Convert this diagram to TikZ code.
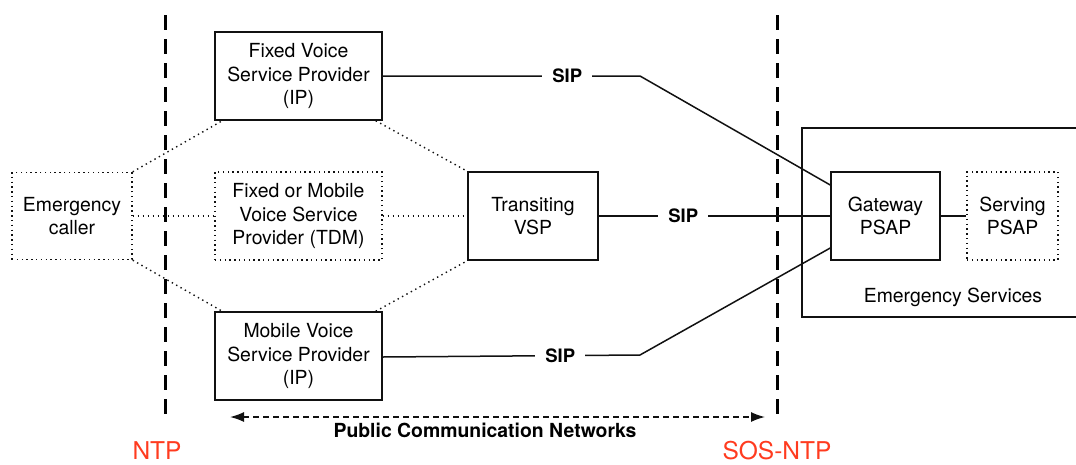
\documentclass[tikz,border=0pt]{standalone}
\usepackage{fontspec}
\setmainfont{TeX Gyre Heros}
\usetikzlibrary{arrows.meta}
\definecolor{ntp-red}{HTML}{FF3B1F}
\definecolor{line-dark}{HTML}{111111}

\begin{document}
\begin{tikzpicture}[x=1pt, y=-1pt,
          every node/.style={font=\fontsize{19.4}{23.5}\selectfont, align=center},
          solidbox/.style={draw=line-dark, line width=1.5pt, inner sep=0pt},
          dotbox/.style={draw=line-dark, line width=1.4pt, inner sep=0pt,
                         dash pattern=on 1.4pt off 3.4pt},
          dotlink/.style={draw=line-dark, line width=1.4pt, dash pattern=on 1.4pt off 3.6pt},
          siplink/.style={draw=line-dark, line width=1.5pt},
          sip/.style={fill=white, font=\fontsize{18.5}{20}\selectfont\bfseries, inner xsep=10pt},
          border/.style={draw=black, line width=3pt, dash pattern=on 15pt off 9pt},
          borderlab/.style={text=ntp-red, font=\fontsize{24.5}{26}\selectfont, inner sep=0pt}]
        % Diagram: emergency call path from caller through the voice providers
        % to the PSAPs; two dashed borders NTP / SOS-NTP.
        % Coordinates: pixel grid of the reference, (x, y) with y going down.
        \useasboundingbox (0,0) rectangle (1076,464);
        % network borders
        \coordinate (ntptop) at (165,15);
        \coordinate (ntpbot) at (165,418);
        \coordinate (sostop) at (777,15);
        \coordinate (sosbot) at (777,418);
        \draw[border] (ntptop) -- (ntpbot);
        \draw[border] (sostop) -- (sosbot);
        \node[borderlab] (ntp) at (157,451) {NTP};
        \node[borderlab] (sosntp) at (777,451) {SOS-NTP};
        % voice service providers
        \foreach \nm/\y/\sty/\lab in {fixedvsp/76/solidbox/{Fixed Voice\\Service Provider\\(IP)},
            tdmvsp/216/dotbox/{Fixed or Mobile\\Voice Service\\Provider (TDM)},
            mobilevsp/356/solidbox/{Mobile Voice\\Service Provider\\(IP)}} {
          \node[\sty, minimum width=167pt, minimum height=88pt] (\nm) at (298.5,\y) {\lab};
        }
        \node[dotbox, minimum width=120pt, minimum height=87pt] (caller) at (72,216)
          {Emergency\\caller};
        \node[solidbox, minimum width=130pt, minimum height=88pt] (transit) at (533,216)
          {Transiting\\VSP};
        % emergency services
        \draw[line-dark, line width=1.5pt] (1080,128) -- (802,128) -- (802,317) -- (1080,317);
        \node[solidbox, fill=white, minimum width=109pt, minimum height=88pt] (gateway)
          at (885.5,216) {Gateway\\PSAP};
        \node[dotbox, minimum width=91pt, minimum height=88pt] (serving) at (1012.5,216)
          {Serving\\PSAP};
        \node (emserv) at (953,297) {Emergency Services};
        % dotted access links
        \draw[dotlink] (caller.north east) -- ([xshift=8pt]fixedvsp.south west);
        \draw[dotlink] (caller.east) -- (tdmvsp.west);
        \draw[dotlink] (caller.south east) -- ([xshift=8pt]mobilevsp.north west);
        \draw[dotlink] ([xshift=-7pt]fixedvsp.south east) -- (transit.north west);
        \draw[dotlink] (tdmvsp.east) -- (transit.west);
        \draw[dotlink] ([xshift=-7pt]mobilevsp.north east) -- (transit.south west);
        % SIP trunks
        \coordinate (topbend) at (640,76);
        \coordinate (botbend) at (640,355);
        \draw[siplink] (fixedvsp.east) -- node[sip, pos=0.717] (siptop) {SIP} (topbend)
          -- ([yshift=31pt]gateway.west);
        \draw[siplink] (transit.east) -- node[sip, pos=0.365] (sipmid) {SIP} (gateway.west);
        \draw[siplink] ([yshift=-1pt]mobilevsp.east) -- node[sip, pos=0.69] (sipbot) {SIP} (botbend)
          -- ([yshift=-32pt]gateway.west);
        \draw[siplink] (gateway.east) -- (serving.west);
        % public networks span
        \coordinate (pcnleft) at (230,417);
        \coordinate (pcnright) at (765,417);
        \draw[line-dark, line width=1.5pt, dash pattern=on 6pt off 4pt,
              {Latex[length=14pt, width=10pt]}-{Latex[length=14pt, width=10pt]}]
          (pcnleft) -- (pcnright);
        \node[font=\fontsize{19.4}{20}\selectfont\bfseries] (pcn) at (485,430)
          {Public Communication Networks};
      \end{tikzpicture}
\end{document}
